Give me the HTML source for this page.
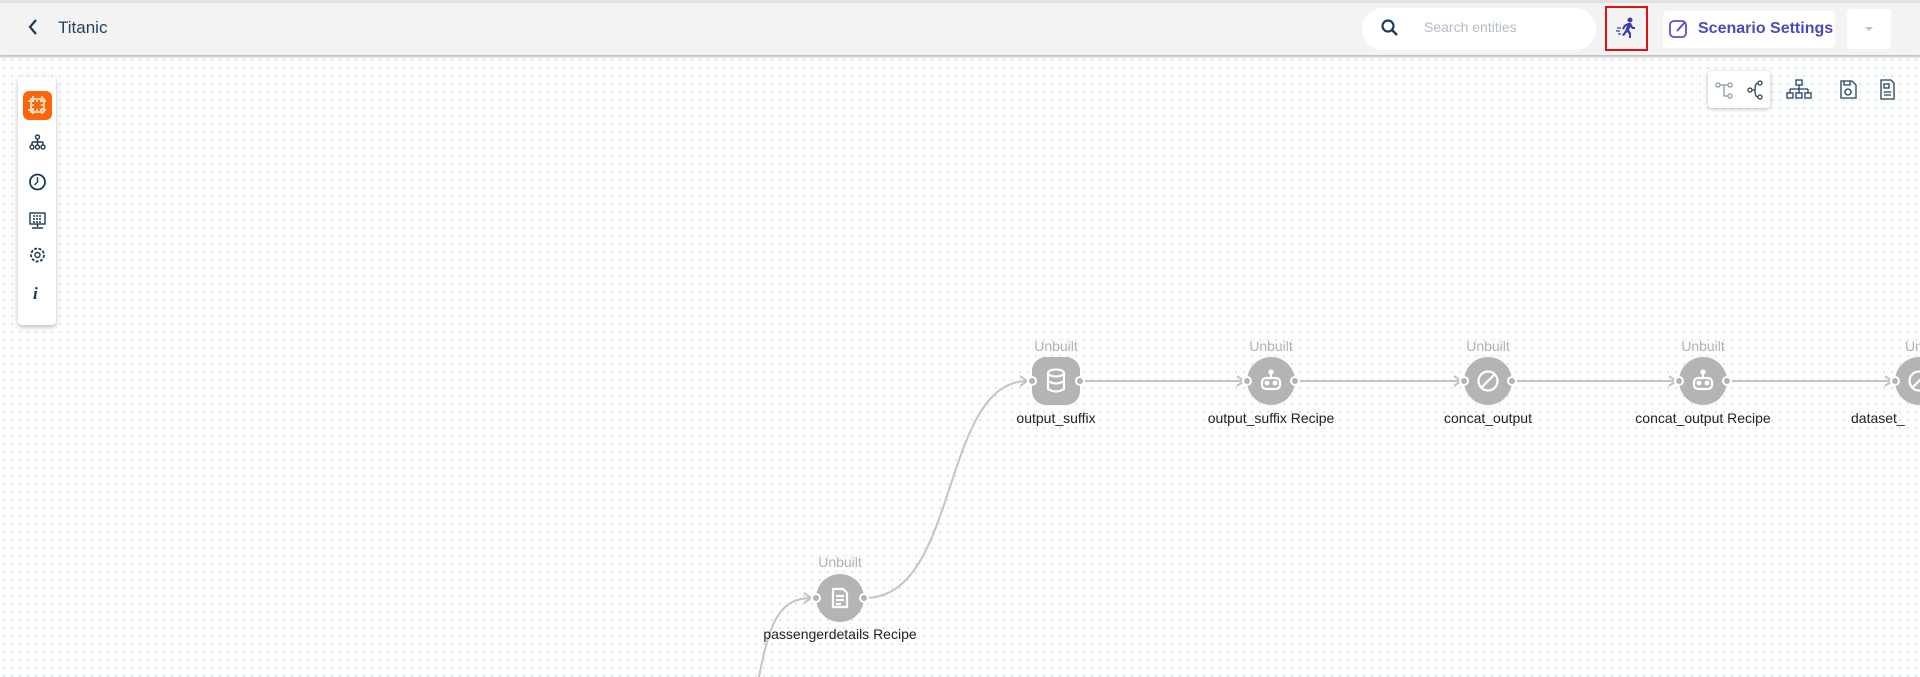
<!DOCTYPE html>
<html><head><meta charset="utf-8"><style>
*{box-sizing:border-box;margin:0;padding:0}
body{width:1920px;height:677px;overflow:hidden;position:relative;font-family:"Liberation Sans",sans-serif;background-color:#fcfdfd;background-image:radial-gradient(circle,#dcdfe0 0.8px,transparent 1.2px);background-size:8px 8px}
.top{position:absolute;left:0;top:0;width:1920px;height:55px;background:#f3f3f3;border-top:3px solid #e2e2e2;box-shadow:0 2px 2px rgba(0,0,0,.25)}
.abs{position:absolute}
.lbl{position:absolute;font-size:14px;color:#222;white-space:nowrap;transform:translateX(-50%)}
.unb{position:absolute;font-size:14px;color:#b3b3b3;transform:translateX(-50%)}
.node{position:absolute;width:48px;height:48px;border-radius:50%;background:#b4b4b4;transform:translate(-50%,-50%)}
.port{position:absolute;width:10px;height:10px;border-radius:50%;background:#b4b4b4;border:2px solid #fff;transform:translate(-50%,-50%)}
</style></head><body>
<div class="top">
 <svg class="abs" style="left:26px;top:14px" width="14" height="20"><path d="M10 3 L4 10 L10 17" stroke="#1d3a55" stroke-width="2.2" fill="none"/></svg>
 <div class="abs" style="left:58px;top:15px;font-size:17px;color:#24425e">Titanic</div>
 <div class="abs" style="left:1362px;top:5px;width:234px;height:42px;background:#fff;border-radius:21px"></div>
 <svg class="abs" style="left:1381px;top:16px" width="18" height="18"><circle cx="7" cy="7" r="5.5" stroke="#1d3a55" stroke-width="2.2" fill="none"/><path d="M11 11 L16 16" stroke="#1d3a55" stroke-width="2.5"/></svg>
 <div class="abs" style="left:1424px;top:16px;font-size:14px;color:#b2bcc6">Search entities</div>
 <div class="abs" style="left:1605px;top:3px;width:43px;height:45px;border:2px solid #e01010"></div>
 <svg class="abs" style="left:1615px;top:13px" width="24" height="24" fill="#3d3fa8"><circle cx="15" cy="4" r="2.5"/><path d="M13 7 L9 9 L7 13 L9 13.5 L10.5 10.5 L12 10 L10 15 L7 19 L9 20 L12 16 L14 18 L14 22 L16 22 L16 17 L14 14 L15.5 11 L17 13 L20 13 L20 11 L18 11 L16 7 Z"/><path d="M2 12h4M1 15h4M3 18h3" stroke="#3d3fa8" stroke-width="1.2"/></svg>
 <div class="abs" style="left:1663px;top:8px;width:172px;height:37px;background:#fff;border-radius:4px"></div>
 <svg class="abs" style="left:1668px;top:15px" width="22" height="22"><rect x="2" y="3" width="16" height="16" rx="4" stroke="#5a52c8" stroke-width="1.8" fill="none"/><path d="M9 13 L17 4" stroke="#5a52c8" stroke-width="2"/></svg>
 <div class="abs" style="left:1698px;top:17px;font-size:16px;font-weight:bold;color:#4d49b8">Scenario Settings</div>
 <div class="abs" style="left:1847px;top:6px;width:44px;height:40px;background:#fff;border-radius:4px"></div>
 <div class="abs" style="left:1865px;top:24px;width:0;height:0;border-left:4px solid transparent;border-right:4px solid transparent;border-top:4px solid #c0c0c0"></div>
</div>
<div class="abs" style="left:1708px;top:71px;width:62px;height:37px;background:#fff;border-radius:4px;box-shadow:0 1px 4px rgba(0,0,0,.25)"></div>
<svg class="abs" style="left:1710px;top:78px" width="210" height="26" fill="none" stroke="#24425e" stroke-width="1.3">
 <g stroke="#8a9aa8"><circle cx="8" cy="7" r="2"/><circle cx="20" cy="7" r="2"/><circle cx="20" cy="18" r="2"/><path d="M10 7h8M14 7v11h4"/></g>
 <circle cx="40" cy="12" r="2"/><circle cx="50" cy="5" r="2"/><circle cx="50" cy="19" r="2"/><path d="M42 12h3M45 12q0-7 3-7M45 12q0 7 3 7"/>
 <rect x="86" y="2" width="6" height="5"/><path d="M89 7v4M80 11h18M80 11v4M89 11v4M98 11v4"/><rect x="77" y="15" width="6" height="5"/><rect x="86" y="15" width="6" height="5"/><rect x="95" y="15" width="6" height="5"/>
 <path d="M131 3h11l4 4v13h-15z"/><circle cx="138" cy="14" r="3"/><path d="M134 3v4h6v-4"/>
 <path d="M171 2h10l3 3v16h-13z"/><rect x="174" y="6" width="5" height="4"/><path d="M174 14h7M174 17h7"/>
</svg>
<div class="abs" style="left:18px;top:77px;width:38px;height:248px;background:#fff;border-radius:4px;box-shadow:0 2px 5px rgba(0,0,0,.25)"></div>
<div class="abs" style="left:23px;top:91px;width:29px;height:29px;background:#fe6408;border-radius:6px"></div>
<svg class="abs" style="left:23px;top:91px" width="29" height="230" fill="none" stroke="#1d3a55" stroke-width="1.4">
 <g stroke="#fff"><rect x="8" y="8" width="13" height="13"/><path d="M5 10h19M5 19h19M10 5v19M19 5v19" stroke-dasharray="2 2"/></g>
 <circle cx="14.5" cy="46" r="2"/><path d="M14.5 48v3M9 51h11M9 51v3M14.5 51v3M20 51v3"/><circle cx="9" cy="56" r="2"/><circle cx="14.5" cy="56" r="2"/><circle cx="20" cy="56" r="2"/>
 <circle cx="14.5" cy="91" r="7.5" stroke-width="1.8"/><path d="M14.5 86v5l-3 3"/>
 <rect x="7" y="122" width="15" height="11"/><path d="M14.5 133v3M9 137h11"/><path d="M10 125h9M10 128h9M10 131h9" stroke-dasharray="2 1"/>
 <circle cx="14.5" cy="164" r="2.5"/><circle cx="14.5" cy="164" r="6.5" stroke-dasharray="3 1.5" stroke-width="1.8"/>
</svg>
<div class="abs" style="left:33px;top:284px;font-family:'Liberation Serif',serif;font-style:italic;font-weight:bold;font-size:17px;color:#1d3a55">i</div>
<svg class="abs" style="left:0;top:0" width="1920" height="677" fill="none" stroke="#c4c4c4" stroke-width="2">
 <path d="M865 598 C 960 598, 940 381, 1028 381"/>
 <path d="M1066 381 H1245 M1296 381 H1462 M1513 381 H1677 M1728 381 H1893"/>
 <path d="M759 677 C 770 620, 780 598, 812 598"/>
 <path d="M1020 376l7 5-7 5M1237 376l7 5-7 5M1454 376l7 5-7 5M1669 376l7 5-7 5M1885 376l7 5-7 5M804 593l7 5-7 5"/>
</svg>
<div class="node" style="left:1056px;top:381px;border-radius:14px"></div>
<div class="node" style="left:1271px;top:381px"></div>
<div class="node" style="left:1488px;top:381px"></div>
<div class="node" style="left:1703px;top:381px"></div>
<div class="node" style="left:1919px;top:381px"></div>
<div class="node" style="left:840px;top:598px"></div>
<div class="port" style="left:1032px;top:381px"></div><div class="port" style="left:1080px;top:381px"></div>
<div class="port" style="left:1247px;top:381px"></div><div class="port" style="left:1295px;top:381px"></div>
<div class="port" style="left:1464px;top:381px"></div><div class="port" style="left:1512px;top:381px"></div>
<div class="port" style="left:1679px;top:381px"></div><div class="port" style="left:1727px;top:381px"></div>
<div class="port" style="left:1895px;top:381px"></div>
<div class="port" style="left:816px;top:598px"></div><div class="port" style="left:864px;top:598px"></div>
<svg class="abs" style="left:0;top:0" width="1920" height="677" fill="none" stroke="#fff" stroke-width="2.2">
 <ellipse cx="1056" cy="373" rx="8" ry="3.5"/><path d="M1048 373v16q8 5 16 0v-16M1048 381q8 5 16 0"/>
 <rect x="1262" y="378" width="18" height="11" rx="4"/><path d="M1271 378v-4"/><circle cx="1271" cy="372" r="1.5" fill="#fff"/><circle cx="1267" cy="383" r="1.3" fill="#fff"/><circle cx="1275" cy="383" r="1.3" fill="#fff"/>
 <rect x="1694" y="378" width="18" height="11" rx="4"/><path d="M1703 378v-4"/><circle cx="1703" cy="372" r="1.5" fill="#fff"/><circle cx="1699" cy="383" r="1.3" fill="#fff"/><circle cx="1707" cy="383" r="1.3" fill="#fff"/>
 <circle cx="1488" cy="381" r="9.5"/><path d="M1481 388l14-14"/>
 <circle cx="1919" cy="381" r="9.5"/><path d="M1912 388l14-14"/>
 <path d="M833 589h10l4 4v14h-14z"/><path d="M836 596h8M836 600h8M836 604h5"/>
</svg>
<div class="unb" style="left:1056px;top:338px">Unbuilt</div>
<div class="unb" style="left:1271px;top:338px">Unbuilt</div>
<div class="unb" style="left:1488px;top:338px">Unbuilt</div>
<div class="unb" style="left:1703px;top:338px">Unbuilt</div>
<div class="unb" style="left:1905px;top:338px;transform:none">Unb</div>
<div class="unb" style="left:840px;top:554px">Unbuilt</div>
<div class="lbl" style="left:1056px;top:410px">output_suffix</div>
<div class="lbl" style="left:1271px;top:410px">output_suffix Recipe</div>
<div class="lbl" style="left:1488px;top:410px">concat_output</div>
<div class="lbl" style="left:1703px;top:410px">concat_output Recipe</div>
<div class="lbl" style="left:1851px;top:410px;transform:none">dataset_</div>
<div class="lbl" style="left:840px;top:626px">passengerdetails Recipe</div>
</body></html>
